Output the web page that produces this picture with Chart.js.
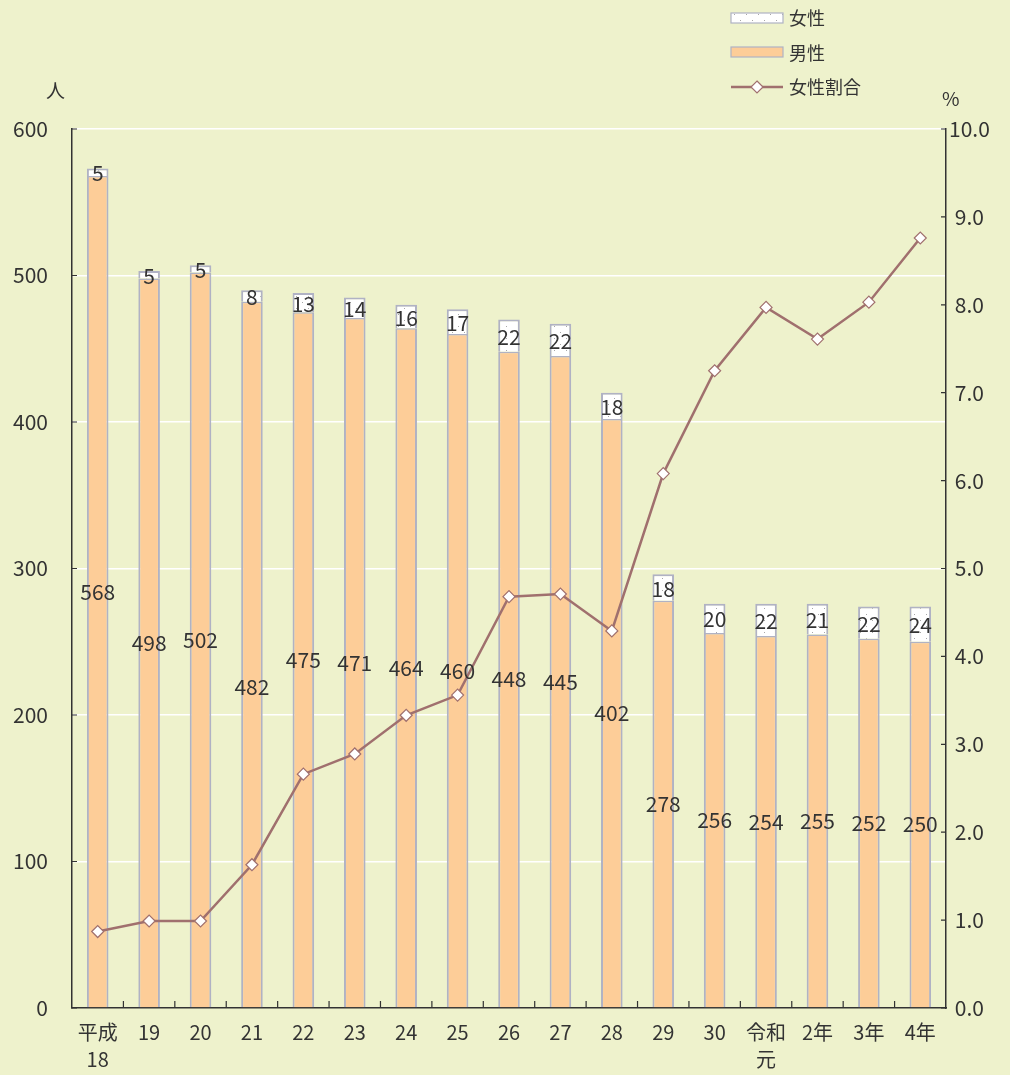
<!DOCTYPE html>
<html><head><meta charset="utf-8">
<script src="https://cdn.jsdelivr.net/npm/chart.js@4.4.1/dist/chart.umd.min.js"></script>
<style>
html,body{margin:0;padding:0;background:#eef2cc;}
#wrap{position:relative;width:1010px;height:1075px;font-family:"Noto Sans CJK JP","Noto Sans",sans-serif;color:#333;}
canvas{position:absolute;left:0;top:0;}
.lg{position:absolute;font-size:18px;line-height:20px;}
.unit{position:absolute;font-size:19px;}
</style></head>
<body>
<div id="wrap">
<canvas id="c" width="1010" height="1075"></canvas>
<div class="unit" style="left:46px;top:76px;">人</div>
<div class="unit" style="left:942px;top:84px;">%</div>
<div class="lg" style="left:789px;top:7px;">女性</div>
<div class="lg" style="left:789px;top:42px;">男性</div>
<div class="lg" style="left:789px;top:76px;">女性割合</div>
</div>
<script>
const categories = [["平成","18"],"19","20","21","22","23","24","25","26","27","28","29","30",["令和","元"],"2年","3年","4年"];
const male = [568,498,502,482,475,471,464,460,448,445,402,278,256,254,255,252,250];
const female = [5,5,5,8,13,14,16,17,22,22,18,18,20,22,21,22,24];
const femaleRatio = [0.87,0.99,0.99,1.63,2.66,2.89,3.33,3.56,4.68,4.71,4.29,6.08,7.25,7.97,7.61,8.03,8.76];
const leftTicks = [0,100,200,300,400,500,600];
const rightTicks = [0,1,2,3,4,5,6,7,8,9,10];

const ORANGE = '#fdcd98', BARBORDER = '#b0b2c4', LINEC = '#a0706e', TXT = '#333';
const FONT = '"Noto Sans CJK JP","Noto Sans",sans-serif';

function dotPattern(){
  const p = document.createElement('canvas'); p.width = 12; p.height = 12;
  const g = p.getContext('2d');
  g.fillStyle = '#ffffff'; g.fillRect(0,0,12,12);
  g.fillStyle = '#a8a8a8';
  g.fillRect(2,2,1,1); g.fillRect(8,8,1,1);
  return g.createPattern(p,'repeat');
}
const femalePattern = dotPattern();

const labelPlugin = {
  id:'labels',
  afterDatasetsDraw(chart){
    const ctx = chart.ctx;
    ctx.save();
    ctx.font = '21px ' + FONT;
    ctx.fillStyle = TXT;
    ctx.textAlign = 'center';
    ctx.textBaseline = 'middle';
    const mMeta = chart.getDatasetMeta(0), fMeta = chart.getDatasetMeta(1);
    mMeta.data.forEach((b,i)=>{
      let y = (b.y + b.base)/2;
      if (i === 3) y += 32;
      ctx.fillText(String(male[i]), b.x, y);
    });
    fMeta.data.forEach((b,i)=>{
      ctx.fillText(String(female[i]), b.x, (b.y + b.base)/2 + 1);
    });
    const ca = chart.chartArea, xs = chart.scales.x, ys = chart.scales.y, y2 = chart.scales.y2;
    ctx.strokeStyle = '#333'; ctx.lineWidth = 1.2;
    ctx.beginPath();
    for (let i=1;i<categories.length;i++){
      const x = (xs.getPixelForValue(i-1)+xs.getPixelForValue(i))/2;
      ctx.moveTo(x, ca.bottom); ctx.lineTo(x, ca.bottom-7);
    }
    leftTicks.forEach(v=>{ const y = ys.getPixelForValue(v); ctx.moveTo(ca.left,y); ctx.lineTo(ca.left+5,y); });
    rightTicks.forEach(v=>{ const y = y2.getPixelForValue(v); ctx.moveTo(ca.right,y); ctx.lineTo(ca.right-5,y); });
    ctx.stroke();
    // legend swatches
    ctx.fillStyle = femalePattern; ctx.fillRect(731,13,52,10);
    ctx.strokeStyle = BARBORDER; ctx.lineWidth = 1.2; ctx.strokeRect(731,13,52,10);
    ctx.fillStyle = ORANGE; ctx.fillRect(731,47,52,10); ctx.strokeRect(731,47,52,10);
    ctx.strokeStyle = LINEC; ctx.lineWidth = 2.5;
    ctx.beginPath(); ctx.moveTo(731,87); ctx.lineTo(783,87); ctx.stroke();
    ctx.fillStyle = '#fff'; ctx.lineWidth = 1.2;
    ctx.beginPath(); ctx.moveTo(757,81); ctx.lineTo(763,87); ctx.lineTo(757,93); ctx.lineTo(751,87); ctx.closePath(); ctx.fill(); ctx.stroke();
    ctx.restore();
  }
};

new Chart(document.getElementById('c'), {
  data:{
    labels: categories,
    datasets:[
      {type:'bar', label:'男性', data:male, backgroundColor:ORANGE, borderColor:BARBORDER, borderWidth:{left:2,right:2,top:1.5,bottom:0}, stack:'s', yAxisID:'y', order:1, barPercentage:0.42, categoryPercentage:1},
      {type:'bar', label:'女性', data:female, backgroundColor:femalePattern, borderColor:BARBORDER, borderWidth:2, stack:'s', yAxisID:'y', order:1, barPercentage:0.42, categoryPercentage:1},
      {type:'line', label:'女性割合', data:femaleRatio, borderColor:LINEC, borderWidth:2.5, pointStyle:'rectRot', pointRadius:6, pointBackgroundColor:'#fff', pointBorderColor:LINEC, pointBorderWidth:1.2, yAxisID:'y2', order:0, tension:0}
    ]
  },
  options:{
    responsive:false, animation:false,
    layout:{padding:{top:129,left:0,right:0,bottom:0}},
    plugins:{legend:{display:false}, tooltip:{enabled:false}},
    scales:{
      x:{stacked:true, grid:{display:false, drawTicks:false}, border:{color:'#333', width:1.5},
         ticks:{color:TXT, font:{size:20, family:FONT, lineHeight:1.35}, padding:11, maxRotation:0, autoSkip:false},
         afterFit(s){ s.height = 67; }},
      y:{stacked:true, position:'left', min:0, max:600,
         afterBuildTicks(s){ s.ticks = leftTicks.map(v=>({value:v})); },
         grid:{color:(c)=> c.tick && c.tick.value===0 ? 'rgba(0,0,0,0)' : '#ffffff', lineWidth:1.5, drawTicks:false},
         border:{color:'#333', width:1.5},
         ticks:{color:TXT, font:{size:21, family:FONT}, padding:24},
         afterFit(s){ s.width = 72; }},
      y2:{position:'right', min:0, max:10,
         afterBuildTicks(s){ s.ticks = rightTicks.map(v=>({value:v})); },
         grid:{display:false, drawTicks:false},
         border:{color:'#333', width:1.5},
         ticks:{color:TXT, font:{size:21, family:FONT}, crossAlign:'center', callback:(v)=>Number(v).toFixed(1)},
         afterFit(s){ s.width = 64; }}
    }
  },
  plugins:[labelPlugin]
});
</script>
</body></html>
